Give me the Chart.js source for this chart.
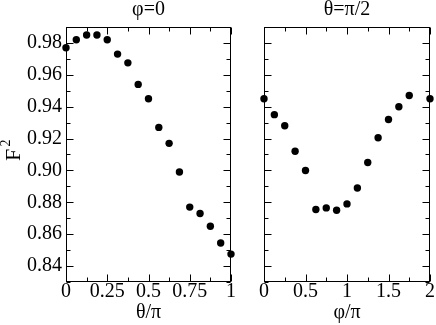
<!DOCTYPE html>
<html>
<head>
<meta charset="utf-8">
<script src="https://cdn.jsdelivr.net/npm/chart.js@4.4.1/dist/chart.umd.min.js"></script>
<style>
    html, body { margin: 0; padding: 0; background: #fff; }
    #wrap { position: relative; width: 436px; height: 325px; overflow: hidden; }
    canvas { position: absolute; top: 0; }
</style>
</head>
<body>
<div id="wrap">
    <canvas id="left" width="240" height="325" style="left:0;width:240px;height:325px"></canvas>
    <canvas id="right" width="196" height="325" style="left:240px;width:196px;height:325px"></canvas>
</div>
<script>
// Left panel: phi = 0, F^2 against theta/pi
const thetaVals = [0, 0.0625, 0.125, 0.1875, 0.25, 0.3125, 0.375, 0.4375, 0.5,
    0.5625, 0.625, 0.6875, 0.75, 0.8125, 0.875, 0.9375, 1];
const fPhi0 = [0.977, 0.982, 0.985, 0.985, 0.982, 0.973, 0.9675, 0.954, 0.945,
    0.927, 0.917, 0.899, 0.877, 0.873, 0.865, 0.8545, 0.8475];

// Right panel: theta = pi/2, F^2 against phi/pi
const phiVals = [0, 0.125, 0.25, 0.375, 0.5, 0.625, 0.75, 0.875, 1,
    1.125, 1.25, 1.375, 1.5, 1.625, 1.75, 2];
const fThetaHalf = [0.945, 0.935, 0.928, 0.912, 0.900, 0.8755, 0.8765, 0.875, 0.879,
    0.889, 0.905, 0.9205, 0.932, 0.940, 0.947, 0.945];

// Tick positions
const yMajor = [0.84, 0.86, 0.88, 0.90, 0.92, 0.94, 0.96, 0.98];
const yMinor = [0.83, 0.85, 0.87, 0.89, 0.91, 0.93, 0.95, 0.97, 0.99];
const thetaMajor = [0, 0.25, 0.5, 0.75, 1];
const thetaMinor = [0.125, 0.375, 0.625, 0.875];
const phiMajor = [0, 0.5, 1, 1.5, 2];
const phiMinor = [0.25, 0.75, 1.25, 1.75];

const FONT = '"Liberation Serif", "DejaVu Serif", serif';

// Draws the box, inward ticks on all four sides, the panel title and F^2
const frameTicks = {
    id: 'frameTicks',
    afterDraw(chart, args, opts) {
        const ctx = chart.ctx;
        const a = chart.chartArea;
        const xs = chart.scales.x, ys = chart.scales.y;
        const L = Math.round(a.left) + 0.5, R = Math.round(a.right) - 0.5;
        const T = Math.round(a.top) + 0.5, B = Math.round(a.bottom) - 0.5;
        ctx.save();
        ctx.strokeStyle = '#000';
        ctx.lineWidth = 1;
        ctx.beginPath();
        const xTick = (v, len) => {
            const px = Math.round(xs.getPixelForValue(v)) + 0.5;
            ctx.moveTo(px, B); ctx.lineTo(px, B - len);
            ctx.moveTo(px, T); ctx.lineTo(px, T + len);
        };
        const yTick = (v, len) => {
            const py = Math.round(ys.getPixelForValue(v)) + 0.5;
            ctx.moveTo(L, py); ctx.lineTo(L + len, py);
            ctx.moveTo(R, py); ctx.lineTo(R - len, py);
        };
        opts.xMajor.forEach(v => xTick(v, 7));
        opts.xMinor.forEach(v => xTick(v, 4));
        yMajor.forEach(v => yTick(v, 7));
        yMinor.forEach(v => yTick(v, 4));
        ctx.stroke();
        ctx.strokeRect(L, T, R - L, B - T);

        ctx.fillStyle = '#000';
        ctx.font = '20px ' + FONT;
        ctx.textAlign = 'center';
        ctx.textBaseline = 'middle';
        ctx.fillText(opts.title, (a.left + a.right) / 2, 10);

        if (opts.yTitle) {
            // rotated F with a raised 2
            ctx.translate(20, 155);
            ctx.rotate(-Math.PI / 2);
            ctx.textBaseline = 'alphabetic';
            ctx.font = '22px ' + FONT;
            ctx.fillText('F', 0, 0);
            ctx.font = '14px ' + FONT;
            ctx.fillText('2', 12, -10);
        }
        ctx.restore();
    }
};

function makePanel(canvasId, xVals, yVals, cfg) {
    const points = xVals.map((x, i) => ({ x: x, y: yVals[i] }));
    return new Chart(document.getElementById(canvasId), {
        type: 'scatter',
        data: {
            datasets: [{
                data: points,
                backgroundColor: '#000',
                borderColor: '#000',
                pointRadius: 3.7,
                pointHoverRadius: 3.7,
                borderWidth: 0,
                clip: false
            }]
        },
        options: {
            responsive: false,
            animation: false,
            layout: { padding: { left: 0, right: cfg.padRight, top: 27, bottom: 0 } },
            plugins: {
                legend: { display: false },
                tooltip: { enabled: false },
                frameTicks: { title: cfg.title, yTitle: cfg.yLabels, xMajor: cfg.xMajor, xMinor: cfg.xMinor }
            },
            scales: {
                x: {
                    type: 'linear',
                    min: cfg.xMin,
                    max: cfg.xMax,
                    grid: { display: false, drawTicks: false },
                    border: { display: false },
                    afterBuildTicks: s => { s.ticks = cfg.xMajor.map(v => ({ value: v })); },
                    ticks: {
                        color: '#000',
                        padding: 0,
                        maxRotation: 0,
                        font: { family: FONT, size: 20, lineHeight: 1 },
                        callback: v => String(Math.round(v * 100) / 100)
                    },
                    title: {
                        display: true,
                        text: cfg.xTitle,
                        color: '#000',
                        font: { family: FONT, size: 20 },
                        padding: { top: 0, bottom: 0 }
                    },
                    afterFit: s => { s.height = 43; s.paddingLeft = 0; s.paddingRight = 0; }
                },
                y: {
                    type: 'linear',
                    min: 0.83,
                    max: 0.99,
                    grid: { display: false, drawTicks: false },
                    border: { display: false },
                    afterBuildTicks: s => { s.ticks = yMajor.map(v => ({ value: v })); },
                    ticks: {
                        display: cfg.yLabels,
                        color: '#000',
                        padding: 4,
                        font: { family: FONT, size: 20 },
                        callback: v => v.toFixed(2)
                    },
                    afterFit: s => { s.width = cfg.yWidth; s.paddingTop = 0; s.paddingBottom = 0; }
                }
            }
        },
        plugins: [frameTicks]
    });
}

makePanel('left', thetaVals, fPhi0, {
    title: 'φ=0', xTitle: 'θ/π', xMin: 0, xMax: 1,
    xMajor: thetaMajor, xMinor: thetaMinor,
    yLabels: true, yWidth: 66, padRight: 9
});

makePanel('right', phiVals, fThetaHalf, {
    title: 'θ=π/2', xTitle: 'φ/π', xMin: 0, xMax: 2,
    xMajor: phiMajor, xMinor: phiMinor,
    yLabels: false, yWidth: 24, padRight: 6
});
</script>
</body>
</html>
